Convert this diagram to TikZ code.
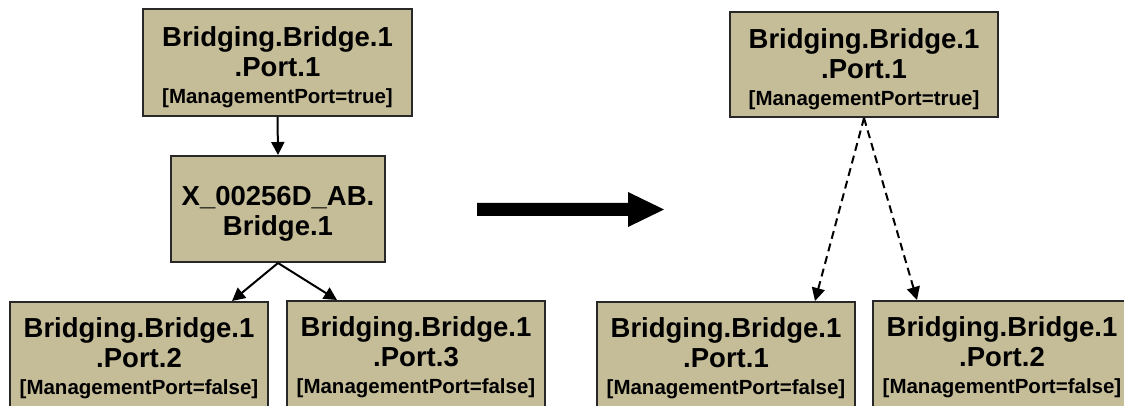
\documentclass[tikz,border=0pt]{standalone}
\usepackage{fontspec}
\setmainfont{Liberation Sans}
\usetikzlibrary{arrows.meta}
\definecolor{boxfill}{RGB}{197,188,152}
\definecolor{boxline}{RGB}{40,40,40}
\newcommand{\mainsize}{\fontsize{27.5pt}{30.5pt}\selectfont\bfseries}
\newcommand{\tagsize}{\fontsize{20.5pt}{24pt}\selectfont\bfseries}
\newcommand{\strutA}{\rule{0pt}{29pt}}
\newcommand{\strutM}{\rule{0pt}{28.8pt}}
\newcommand{\strutB}{\rule{0pt}{24.5pt}}
\begin{document}
\begin{tikzpicture}[x=1pt,y=-1pt,
  box/.style={draw=boxline, line width=2pt, fill=boxfill, inner sep=0pt, align=center, font=\mainsize, text=black},
  portbox/.style={box, minimum width=258pt, minimum height=107pt},
  link/.style={line width=2pt, draw=black, -{Triangle[length=13pt,width=13pt]}},
  dlink/.style={link, dash pattern=on 8pt off 5pt}]
\useasboundingbox (0,0) rectangle (1124,406);
\clip (0,0) rectangle (1124,406);
% left side
\node[box, minimum width=269pt, minimum height=107pt] (tl) at (277.5,62.5)
  {\strutA Bridging.Bridge.1\\.Port.1\\[-4pt]{\tagsize [ManagementPort=true]}};
\node[box, minimum width=214pt, minimum height=106pt] (mid) at (278,209)
  {\strutM X\_00256D\_AB.\\Bridge.1};
\node[portbox] (ba) at (139,355.5)
  {\strutB Bridging.Bridge.1\\.Port.2\\[-4pt]{\tagsize [ManagementPort=false]}};
\node[portbox] (bb) at (416,354.5)
  {\strutB Bridging.Bridge.1\\.Port.3\\[-4pt]{\tagsize [ManagementPort=false]}};
% right side
\node[box, minimum width=268pt, minimum height=105pt] (tr) at (864,64.5)
  {\strutA Bridging.Bridge.1\\.Port.1\\[-4pt]{\tagsize [ManagementPort=true]}};
\node[portbox] (bc) at (726,355.5)
  {\strutB Bridging.Bridge.1\\.Port.1\\[-4pt]{\tagsize [ManagementPort=false]}};
\node[portbox] (bd) at (1002,354.5)
  {\strutB Bridging.Bridge.1\\.Port.2\\[-4pt]{\tagsize [ManagementPort=false]}};
% connectors
\draw[link] (tl.south) -- (mid.north);
\draw[link] (mid.south) -- ([xshift=93pt]ba.north);
\draw[link] (mid.south) -- ([xshift=-79pt]bb.north);
\draw[dlink] (tr.south) -- ([xshift=89pt]bc.north);
\draw[dlink] (tr.south) -- ([xshift=-85pt]bd.north);
% big transition arrow
\fill[black] (477,203) -- (628,203) -- (628,192) -- (664,209.5) -- (628,227) -- (628,216) -- (477,216) -- cycle;
\end{tikzpicture}
\end{document}
